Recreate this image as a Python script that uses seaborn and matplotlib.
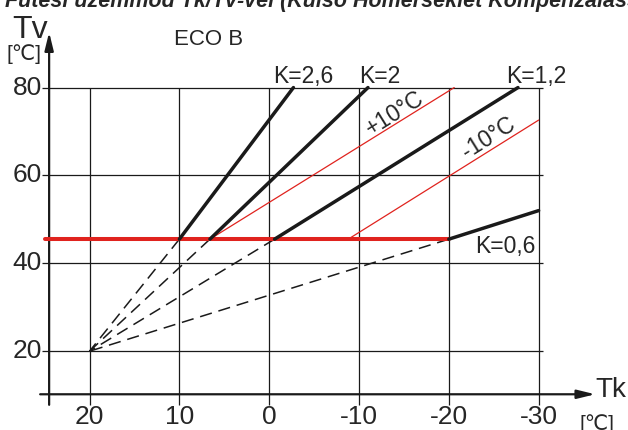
import matplotlib
matplotlib.use("Agg")
import matplotlib.pyplot as plt
import seaborn as sns

# outside temperature Tk (x, reversed) and flow temperature Tv (y)
x_ticks = [20, 10, 0, -10, -20, -30]
y_ticks = [20, 40, 60, 80]
x_tick_labels = ["20", "10", "0", "-10", "-20", "-30"]
y_tick_labels = ["20", "40", "60", "80"]

# heating curves: all start at the pivot, dashed up to the ECO limit, then solid
pivot_tk, pivot_tv = 20, 20
curve_labels = ["K=2,6", "K=2", "K=1,2", "K=0,6"]
knee_tk = [10, 6.6, -0.6, -20]
end_tk = [-2.7, -11.0, -27.7, -30]
end_tv = [80, 80, 80, 52]
eco_limit_tv = 45.5
eco_limit_from_tk = 25.0

# room temperature shifted curves (red, thin)
shift_labels = ["+10°C", "-10°C"]
shift_start_tk = [6.6, -8.8]
shift_end_tk = [-20.6, -30]
shift_end_tv = [80, 72.6]

title = "Fűtési üzemmód Tk/Tv-vel (Külső Hőmérséklet Kompenzálással)"

sns.set_theme(style="white")
plt.rcParams["font.family"] = ["Liberation Sans", "DejaVu Sans"]

BLACK = "#1a1a1a"
RED = "#e0231e"

fig = plt.figure(figsize=(6.28, 4.30), dpi=100)
ax = fig.add_axes([0, 0, 1, 1])
ax.set_xlim(29.97, -39.95)
ax.set_ylim(2.07, 99.93)
ax.axis("off")

# grid
ax.hlines(y_ticks, 25.3, -30.5, color=BLACK, lw=0.9, zorder=1)
ax.vlines(x_ticks, 7.8, 80, color=BLACK, lw=0.9, zorder=1)

# axes with arrows
ax.annotate("", xy=(24.5, 92.6), xytext=(24.5, 7.8),
            arrowprops=dict(arrowstyle="-|>,head_length=0.9,head_width=0.22",
                            lw=1.6, color=BLACK, shrinkA=0, shrinkB=0))
ax.annotate("", xy=(-36.3, 10.2), xytext=(25.5, 10.2),
            arrowprops=dict(arrowstyle="-|>,head_length=0.9,head_width=0.22",
                            lw=1.6, color=BLACK, shrinkA=0, shrinkB=0))

# ECO limit line
sns.lineplot(x=[eco_limit_from_tk, knee_tk[-1]], y=[eco_limit_tv, eco_limit_tv],
             ax=ax, color=RED, lw=2.9, zorder=3)

# heating curves
for k, lab in enumerate(curve_labels):
    sns.lineplot(x=[pivot_tk, knee_tk[k]], y=[pivot_tv, eco_limit_tv], ax=ax,
                 color=BLACK, lw=1.1, linestyle=(0, (8, 4.5)), zorder=2)
    sns.lineplot(x=[knee_tk[k], end_tk[k]], y=[eco_limit_tv, end_tv[k]], ax=ax,
                 color=BLACK, lw=2.5, zorder=4)

# shifted curves
for k, lab in enumerate(shift_labels):
    sns.lineplot(x=[shift_start_tk[k], shift_end_tk[k]],
                 y=[eco_limit_tv, shift_end_tv[k]], ax=ax,
                 color=RED, lw=0.9, zorder=3)

# curve labels
fs = 16.5
ax.text(-0.4, 81.0, curve_labels[0], fontsize=fs, ha="left", va="baseline")
ax.text(-10.0, 81.0, curve_labels[1], fontsize=fs, ha="left", va="baseline")
ax.text(-26.4, 81.0, curve_labels[2], fontsize=fs, ha="left", va="baseline")
ax.text(-22.9, 42.4, curve_labels[3], fontsize=fs, ha="left", va="baseline")
ax.text(-14.0, 74.2, shift_labels[0], fontsize=fs, ha="center", va="center",
        rotation=32, rotation_mode="anchor")
ax.text(-24.4, 68.6, shift_labels[1], fontsize=fs, ha="center", va="center",
        rotation=32, rotation_mode="anchor")

# tick labels
for t, lab in zip(x_ticks, x_tick_labels):
    ax.text(t, 5.0, lab, fontsize=19, ha="center", va="center")
for t, lab in zip(y_ticks, y_tick_labels):
    ax.text(25.3, t, lab, fontsize=19, ha="right", va="center")

# axis names and units
ax.text(28.6, 91.3, "Tv", fontsize=23, ha="left", va="baseline")
ax.text(29.2, 86.3, "[℃]", fontsize=15, ha="left", va="baseline")
ax.text(-36.3, 9.6, "Tk", fontsize=20, ha="left", va="baseline")
ax.text(-34.6, 2.0, "[℃]", fontsize=15, ha="left", va="baseline")
ax.text(10.6, 89.7, "ECO B", fontsize=16, ha="left", va="baseline")

fig.text(0.008, 1 - 6.5 / 430, title, fontsize=15.5, fontweight="bold",
         fontstyle="italic", ha="left", va="baseline")

fig.savefig("out.png", dpi=100)
